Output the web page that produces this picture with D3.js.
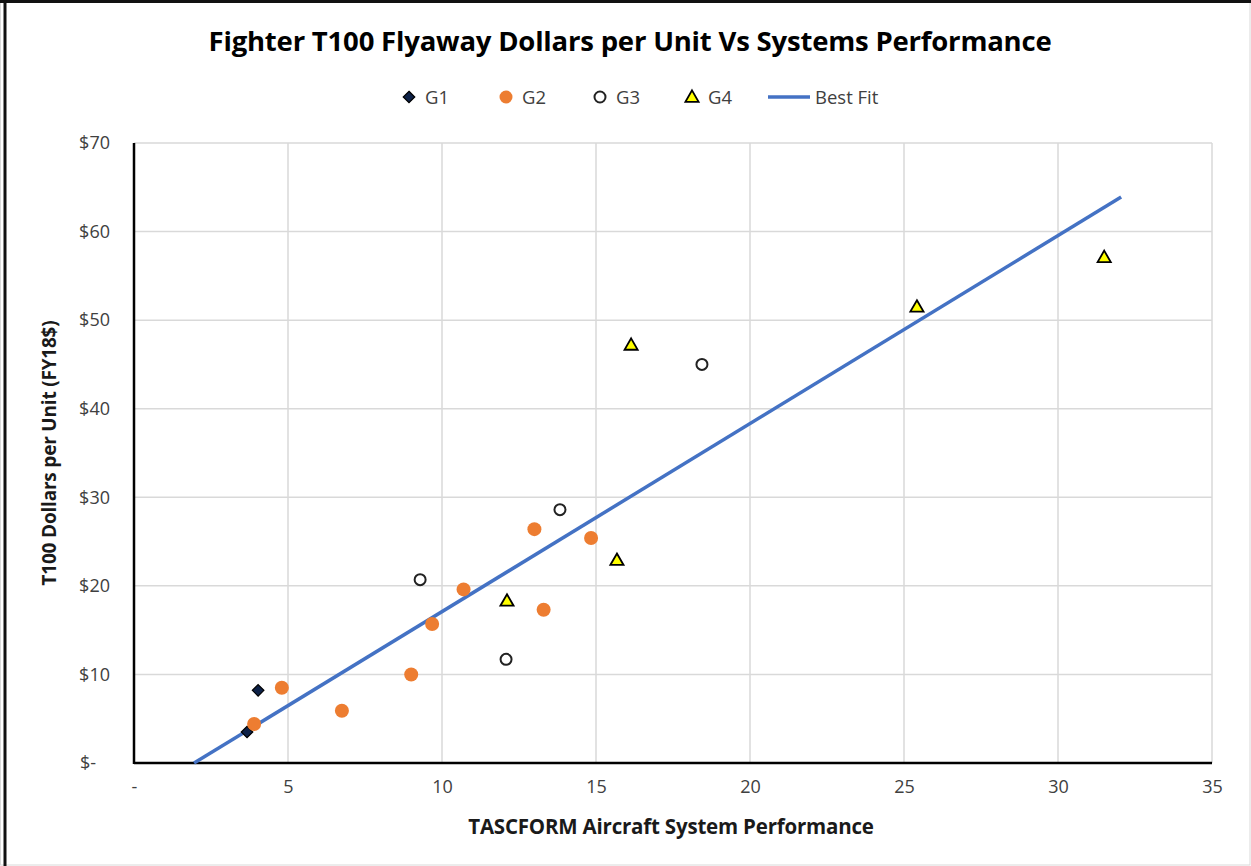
<!DOCTYPE html>
<html>
<head>
<meta charset="utf-8">
<script src="https://cdn.jsdelivr.net/npm/d3@7"></script>
<style>
  body { margin: 0; background: #fff; }
  text { font-family: "Open Sans", Lato, sans-serif; }
</style>
</head>
<body>
<svg id="chart" width="1251" height="866"></svg>
<script>
// data
var g1 = [[3.67, 3.5], [4.03, 8.2]]
var g2 = [[3.9, 4.4], [4.8, 8.5], [6.75, 5.9], [9.0, 10.0], [9.68, 15.7], [10.7, 19.6],
          [13.0, 26.4], [13.3, 17.3], [14.84, 25.4]]
var g3 = [[9.29, 20.7], [12.08, 11.7], [13.83, 28.6], [18.44, 45.0]]
var g4 = [[12.11, 18.3], [15.68, 22.9], [16.14, 47.2], [25.42, 51.5], [31.5, 57.1]]
var fitX = [1.95, 32.05]
var fitSlope = 2.123, fitIntercept = -4.14
var xTicks = [0, 5, 10, 15, 20, 25, 30, 35]
var yTicks = [0, 10, 20, 30, 40, 50, 60, 70]
var legendNames = ['G1', 'G2', 'G3', 'G4', 'Best Fit']

var svg = d3.select('#chart')
var width = 1251, height = 866

var x = d3.scaleLinear().domain([0, 35]).range([134, 1212])
var y = d3.scaleLinear().domain([0, 70]).range([763, 143])

// outer frame
svg.append('rect').attr('x', 0.5).attr('y', 0.5).attr('width', width - 1.5).attr('height', height - 1.5)
  .attr('fill', '#fff').attr('stroke', '#d9d9d9')
svg.append('line').attr('x1', 0).attr('x2', width).attr('y1', 1.5).attr('y2', 1.5)
  .attr('stroke', '#111').attr('stroke-width', 3)
svg.append('line').attr('x1', 5).attr('x2', 5).attr('y1', 0).attr('y2', height)
  .attr('stroke', '#111').attr('stroke-width', 3)

// grid
svg.append('g').selectAll('line').data(xTicks.slice(1)).join('line')
  .attr('x1', d => x(d)).attr('x2', d => x(d)).attr('y1', y(70)).attr('y2', y(0))
  .attr('stroke', '#d9d9d9').attr('stroke-width', 1.5)
svg.append('g').selectAll('line').data(yTicks.slice(1)).join('line')
  .attr('x1', x(0)).attr('x2', x(35)).attr('y1', d => y(d)).attr('y2', d => y(d))
  .attr('stroke', '#d9d9d9').attr('stroke-width', 1.5)

// axes
var xAxis = d3.axisBottom(x).tickValues(xTicks).tickSize(0).tickPadding(17)
  .tickFormat(d => d === 0 ? '-' : d)
var yAxis = d3.axisLeft(y).tickValues(yTicks).tickSize(0).tickPadding(24)
  .tickFormat(d => d === 0 ? '$-   ' : '$' + d)

var gx = svg.append('g').attr('transform', 'translate(0,' + y(0) + ')').call(xAxis)
var gy = svg.append('g').attr('transform', 'translate(' + x(0) + ',0)').call(yAxis)
gx.select('.domain').remove()
gy.select('.domain').remove()
svg.selectAll('.tick text').attr('font-size', 18).attr('fill', '#404040')
  .style('font-family', '"Open Sans", sans-serif').style('white-space', 'pre')

svg.append('line').attr('x1', x(0)).attr('x2', x(35)).attr('y1', y(0)).attr('y2', y(0))
  .attr('stroke', '#000').attr('stroke-width', 2.5)
svg.append('line').attr('x1', x(0)).attr('x2', x(0)).attr('y1', y(70)).attr('y2', y(0) + 1)
  .attr('stroke', '#000').attr('stroke-width', 2.5)

// best fit
var line = d3.line().x(d => x(d)).y(d => y(fitSlope * d + fitIntercept))
svg.append('path').datum(fitX).attr('d', line)
  .attr('fill', 'none').attr('stroke', '#4472c4').attr('stroke-width', 3.5)

// markers
var diamond = d3.symbol().type(d3.symbolDiamond2).size(85)
var triangle = d3.symbol().type(d3.symbolTriangle).size(75)

function drawG1(sel) {
  sel.append('path').attr('d', diamond).attr('fill', '#0d2147').attr('stroke', '#000').attr('stroke-width', 1.2)
}
function drawG2(sel) {
  sel.append('circle').attr('r', 7).attr('fill', '#ed7d31')
}
function drawG3(sel) {
  sel.append('circle').attr('r', 5.5).attr('fill', '#fff').attr('stroke', '#222').attr('stroke-width', 2)
}
function drawG4(sel) {
  sel.append('path').attr('d', triangle).attr('transform', 'translate(0,1)')
    .attr('fill', '#ffff00').attr('stroke', '#000').attr('stroke-width', 1.8)
}

var groups = [[g1, drawG1], [g2, drawG2], [g3, drawG3], [g4, drawG4]]
groups.forEach(function (g) {
  svg.append('g').selectAll('g').data(g[0]).join('g')
    .attr('transform', d => 'translate(' + x(d[0]) + ',' + y(d[1]) + ')')
    .call(g[1])
})

// title
svg.append('text').attr('x', 630).attr('y', 51).attr('text-anchor', 'middle')
  .attr('font-size', 27.5).attr('font-weight', 'bold').attr('fill', '#000')
  .attr('letter-spacing', -0.2)
  .text('Fighter T100 Flyaway Dollars per Unit Vs Systems Performance')

// legend
var legX = [409, 506, 600, 692, 768]
var drawers = [drawG1, drawG2, drawG3, drawG4]
var legend = svg.append('g').attr('transform', 'translate(0,97)')
legendNames.forEach(function (name, i) {
  var item = legend.append('g').attr('transform', 'translate(' + legX[i] + ',0)')
  if (i < 4) {
    var m = item.append('g')
    drawers[i](m)
    if (i === 1) m.select('circle').attr('r', 6.5)
    item.append('text').attr('x', 16).attr('y', 6.5).attr('font-size', 18.5).attr('fill', '#404040').text(name)
  } else {
    item.append('line').attr('x1', 0).attr('x2', 42).attr('stroke', '#4472c4').attr('stroke-width', 3.5)
    item.append('text').attr('x', 47).attr('y', 6.5).attr('font-size', 18.5).attr('fill', '#404040').text(name)
  }
})

// axis titles
svg.append('text').attr('x', 671).attr('y', 834).attr('text-anchor', 'middle')
  .attr('font-size', 20.5).attr('font-weight', 'bold').attr('fill', '#1a1a1a')
  .attr('letter-spacing', -0.2)
  .text('TASCFORM Aircraft System Performance')
svg.append('text').attr('transform', 'translate(56,453) rotate(-90)').attr('text-anchor', 'middle')
  .attr('font-size', 19).attr('font-weight', 'bold').attr('fill', '#1a1a1a')
  .attr('letter-spacing', -0.2)
  .text('T100 Dollars per Unit (FY18$)')
</script>
</body>
</html>
